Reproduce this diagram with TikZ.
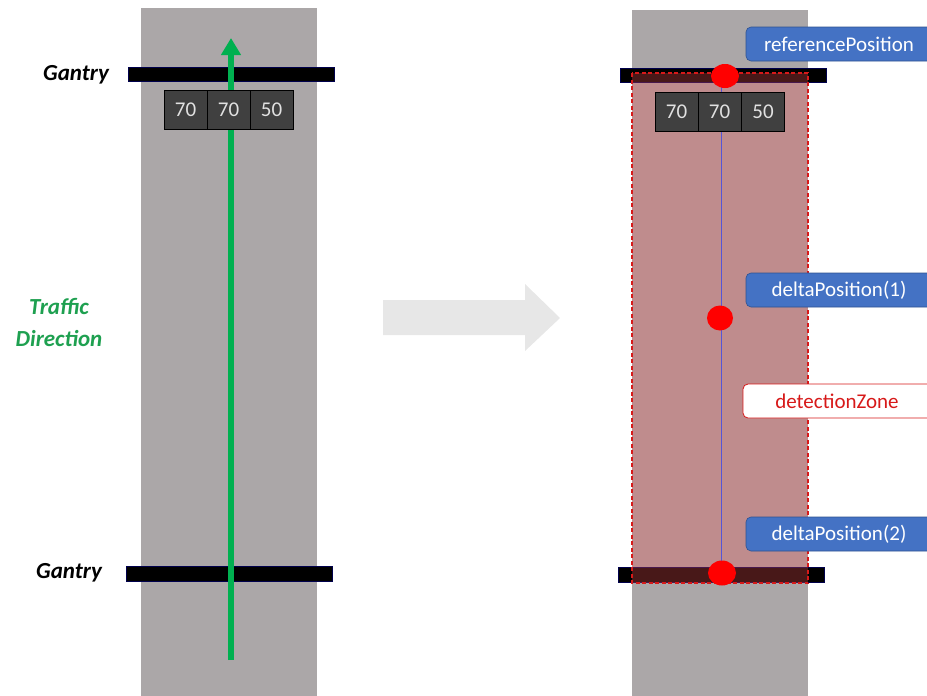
\documentclass[tikz,border=0pt]{standalone}
\usepackage{fontspec}
\setmainfont{Carlito}
\usetikzlibrary{arrows.meta}
\definecolor{road}{RGB}{171,167,168}
\definecolor{signfill}{RGB}{64,64,64}
\definecolor{signtext}{RGB}{225,225,225}
\definecolor{flowgreen}{RGB}{0,176,80}
\definecolor{textgreen}{RGB}{30,160,80}
\definecolor{labelblue}{RGB}{68,114,196}
\definecolor{labeledge}{RGB}{47,82,143}
\definecolor{zonered}{RGB}{215,25,25}
\definecolor{zonetint}{RGB}{240,80,80}
\definecolor{hintgrey}{RGB}{231,231,231}
\definecolor{trackblue}{RGB}{85,85,215}
\tikzset{
  roadbox/.style={fill=road, draw=none},
  gantrybar/.style={fill=black, draw=black!70!blue, line width=0.4pt},
  sign/.style={draw=black, fill=signfill, text=signtext, minimum width=43pt,
    minimum height=39pt, inner sep=0pt, font=\fontsize{21}{24}\selectfont},
  gantrytext/.style={font=\bfseries\itshape\fontsize{23}{26}\selectfont},
  infolabel/.style={fill=labelblue, draw=labeledge, rounded corners=5pt, line width=0.6pt},
  infotext/.style={text=white, font=\fontsize{21}{24}\selectfont},
  zonelabel/.style={fill=white, draw=zonered, rounded corners=5pt, line width=0.8pt},
  dot/.style={fill=red, draw=none},
}
\begin{document}
\begin{tikzpicture}[x=1pt, y=-1pt]
\useasboundingbox (0,0) rectangle (927,696);

% ---------- left panel ----------
\fill[roadbox] (141,8) rectangle (317,696);
\fill[gantrybar] (128,67) rectangle (334,81);
\fill[gantrybar] (126,566) rectangle (332,581);
\node[gantrytext] (gantryTopL) at (76,75) {Gantry};
\node[gantrytext] (gantryBotL) at (69,573) {Gantry};

\coordinate (flowStart) at (231,660);
\coordinate (flowEnd) at (231,38);
\draw[flowgreen, line width=6pt, -{Triangle[width=19pt,length=17pt]}] (flowStart) -- (flowEnd);

\node[sign] (sL1) at (185.5,109.5) {70};
\node[sign] (sL2) at (228.5,109.5) {70};
\node[sign] (sL3) at (271.5,109.5) {50};

\node[text=textgreen, font=\bfseries\itshape\fontsize{23}{32}\selectfont, align=center]
  (traffic) at (59,322) {Traffic\\Direction};

% ---------- transition arrow ----------
\fill[hintgrey] (383,300) -- (525,300) -- (525,284) -- (560,318)
  -- (525,351) -- (525,335) -- (383,335) -- cycle;

% ---------- right panel ----------
\fill[roadbox] (632,10) rectangle (808,696);
\fill[gantrybar] (620,68) rectangle (826,82);
\fill[gantrybar] (618,567) rectangle (824,582);

% detection zone overlay
\fill[zonetint, opacity=0.3] (632,73) rectangle (808,583);
\draw[zonered, line width=1.1pt, dash pattern=on 4pt off 2.5pt] (632,73) rectangle (808,583);

% tracked positions
\coordinate (refPos) at (725,76);
\coordinate (delta1) at (720,318);
\coordinate (delta2) at (722,573);
\draw[trackblue, line width=0.9pt] (721,82) -- (721,575);

\node[sign] (sR1) at (676.5,112) {70};
\node[sign] (sR2) at (719.5,112) {70};
\node[sign] (sR3) at (763,112) {50};

\fill[dot] (refPos) ellipse [x radius=14pt, y radius=12pt];
\fill[dot] (delta1) ellipse [x radius=13pt, y radius=12.5pt];
\fill[dot] (delta2) ellipse [x radius=14pt, y radius=12.5pt];

% labels
\fill[infolabel] (746,27) rectangle (940,61);
\node[infotext] (refLabel) at (839,44) {referencePosition};
\fill[infolabel] (746,273) rectangle (940,307);
\node[infotext] (d1Label) at (839,290) {deltaPosition(1)};
\filldraw[zonelabel] (743,384) rectangle (940,418);
\node[text=zonered, font=\fontsize{21}{24}\selectfont] (zoneLabel) at (837,401) {detectionZone};
\fill[infolabel] (746,517) rectangle (940,551);
\node[infotext] (d2Label) at (839,534) {deltaPosition(2)};
\end{tikzpicture}
\end{document}
